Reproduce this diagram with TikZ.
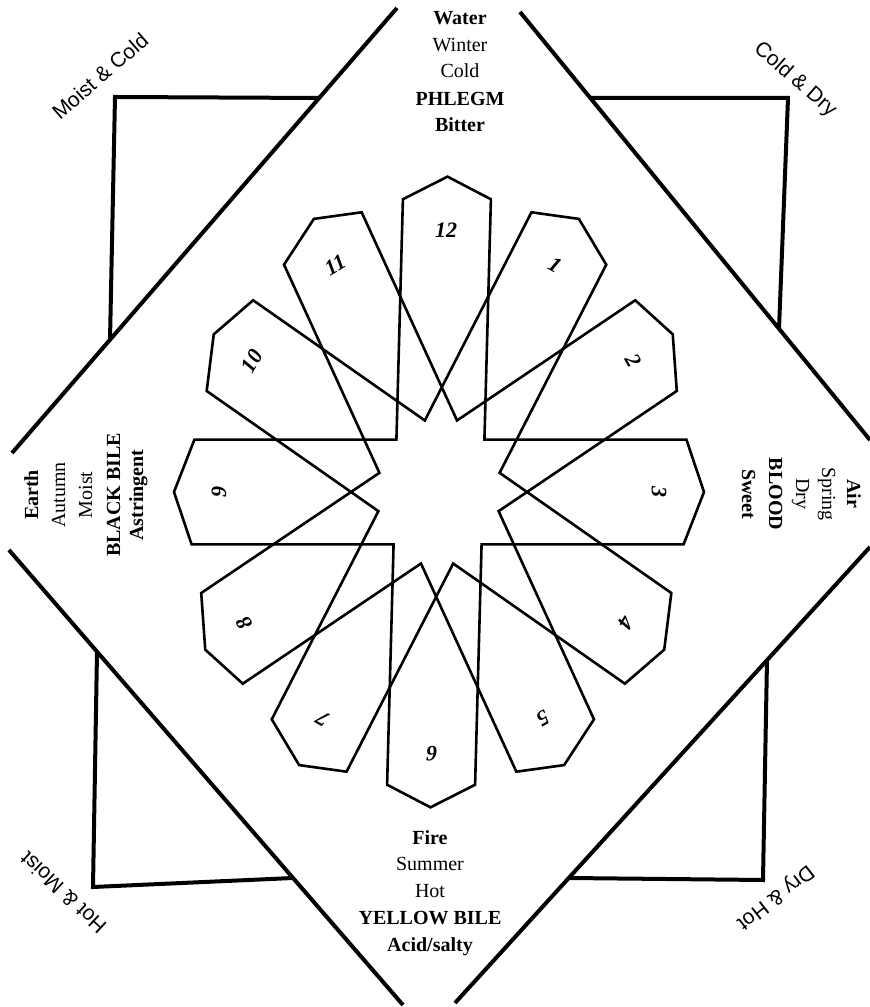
\documentclass[tikz,border=0pt]{standalone}
\usepackage{fontspec}
\setmainfont{Liberation Serif}
\newfontfamily\cornerfont{Liberation Sans}
\begin{document}
\begin{tikzpicture}[x=1pt,y=1pt,
  heavy/.style={line width=4pt, line join=miter},
  petal/.style={line width=2.6pt, line join=miter},
  lbl/.style={font=\fontsize{20}{24}\selectfont, inner sep=0pt, anchor=base},
  lblb/.style={inner sep=0pt, anchor=base, font=\fontsize{20}{24}\selectfont\bfseries},
  corner/.style={font=\cornerfont\fontsize{21}{25}\selectfont, inner sep=0pt},
  num/.style={font=\fontsize{22}{26}\selectfont\bfseries\itshape, inner sep=0pt}]
\useasboundingbox (0,0) rectangle (870,1007);

% outer diamond (clipped by the page)
\coordinate (dTLa) at (397,999); \coordinate (dTLb) at (12,554);
\coordinate (dTRa) at (520,995); \coordinate (dTRb) at (870,567);
\coordinate (dBLa) at (9,457);   \coordinate (dBLb) at (403,2);
\coordinate (dBRa) at (870,460); \coordinate (dBRb) at (455,4);
\draw[heavy] (dTLa) -- (dTLb);
\draw[heavy] (dTRa) -- (dTRb);
\draw[heavy] (dBLa) -- (dBLb);
\draw[heavy] (dBRa) -- (dBRb);

% corner squares
\draw[heavy] (319,909) -- (115,910) -- (110,667);
\draw[heavy] (590,909) -- (788,909) -- (779,678);
\draw[heavy] (97,355) -- (93,120) -- (293,129);
\draw[heavy] (767,347) -- (763,127) -- (569,129);

% corner labels
\node[corner, rotate=41] (mc) at (100,931) {Moist \& Cold};
\node[corner, rotate=-41] (cd) at (795,927) {Cold \& Dry};
\node[corner, rotate=137] (hm) at (63,114) {Hot \& Moist};
\node[corner, rotate=-142] (dh) at (775,110) {Dry \& Hot};

% top block
\node[lblb] (t1) at (460,982) {Water};
\node[lbl]  (t2) at (460,955) {Winter};
\node[lbl]  (t3) at (460,929) {Cold};
\node[lblb] (t4) at (460,901) {PHLEGM};
\node[lblb] (t5) at (460,875) {Bitter};

% bottom block
\node[lblb] (b1) at (430,162) {Fire};
\node[lbl]  (b2) at (430,136) {Summer};
\node[lbl]  (b3) at (430,109) {Hot};
\node[lblb] (b4) at (430,82) {YELLOW BILE};
\node[lblb] (b5) at (430,55) {Acid/salty};

% left block
\node[lblb, rotate=90] (l1) at (38,512) {Earth};
\node[lbl,  rotate=90] (l2) at (65,512) {Autumn};
\node[lbl,  rotate=90] (l3) at (92,512) {Moist};
\node[lblb, rotate=90] (l4) at (120,512) {BLACK BILE};
\node[lblb, rotate=90] (l5) at (143,512) {Astringent};

% right block
\node[lblb, rotate=-90] (r1) at (847,513) {Air};
\node[lbl,  rotate=-90] (r2) at (822,513) {Spring};
\node[lbl,  rotate=-90] (r3) at (796,513) {Dry};
\node[lblb, rotate=-90] (r4) at (769,513) {BLOOD};
\node[lblb, rotate=-90] (r5) at (742,513) {Sweet};

% rosette: three pointed crosses
\begin{scope}[shift={(439,515)}, xslant=0.027, yscale=1.19]
  \foreach \r in {0,30,60}{
    \begin{scope}[rotate=\r]
      \draw[petal] (44,-44) -- (246,-44) -- (265,0) -- (246,44) -- (44,44)
        -- (44,246) -- (0,265) -- (-44,246) -- (-44,44)
        -- (-246,44) -- (-265,0) -- (-246,-44) -- (-44,-44)
        -- (-44,-246) -- (0,-265) -- (44,-246) -- cycle;
    \end{scope}
  }
  \foreach \n/\a in {12/90, 1/60, 2/30, 3/0, 4/-30, 5/-60, 6/-90, 7/-120, 8/-150, 9/180, 10/150, 11/120}{
    \pgfmathsetmacro{\rr}{\a-90}
    \node[num, rotate=\rr] (n\n) at (\a:220) {\n};
  }
\end{scope}
\end{tikzpicture}
\end{document}
